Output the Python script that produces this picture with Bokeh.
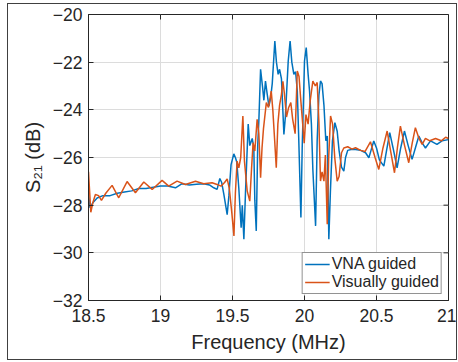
from bokeh.plotting import figure
from bokeh.models import Range1d, FixedTicker, Legend, LegendItem
from bokeh.embed import file_html
from bokeh.resources import INLINE

# ---- data ----
freq_vna = [18.500, 18.510, 18.530, 18.560, 18.600, 18.650, 18.700, 18.750, 18.800, 18.850,
            18.900, 18.950, 19.000, 19.050, 19.104, 19.150, 19.200, 19.250, 19.300, 19.340,
            19.370, 19.393, 19.412, 19.425, 19.440, 19.463, 19.475, 19.490, 19.509, 19.520,
            19.530, 19.544, 19.560, 19.568, 19.579, 19.590, 19.609, 19.620, 19.637, 19.648,
            19.655, 19.665, 19.675, 19.683, 19.695, 19.708, 19.718, 19.729, 19.740, 19.753,
            19.765, 19.776, 19.794, 19.805, 19.817, 19.827, 19.840, 19.857, 19.867, 19.887,
            19.900, 19.912, 19.926, 19.938, 19.950, 19.960, 19.975, 19.984, 20.000, 20.012,
            20.025, 20.035, 20.048, 20.058, 20.077, 20.088, 20.100, 20.111, 20.122, 20.135,
            20.148, 20.158, 20.169, 20.180, 20.194, 20.211, 20.227, 20.240, 20.257, 20.273,
            20.285, 20.300, 20.330, 20.354, 20.390, 20.424, 20.447, 20.462, 20.481, 20.500,
            20.520, 20.551, 20.570, 20.592, 20.615, 20.643, 20.668, 20.694, 20.720, 20.747,
            20.770, 20.794, 20.818, 20.840, 20.875, 20.920, 20.955, 21.000]
s21_vna = [-27.50, -28.10, -27.90, -27.70, -27.60, -27.60, -27.50, -27.45, -27.40, -27.30,
           -27.30, -27.25, -27.20, -27.20, -27.27, -27.10, -27.15, -27.12, -27.10, -27.15,
           -27.27, -27.34, -26.88, -27.05, -27.55, -28.40, -27.60, -26.30, -25.85, -26.00,
           -26.20, -27.30, -28.95, -28.00, -29.43, -27.50, -24.60, -25.50, -25.20, -25.60,
           -27.80, -29.08, -25.50, -24.47, -22.30, -23.00, -23.60, -22.79, -23.30, -23.84,
           -23.50, -22.90, -21.11, -22.00, -22.51, -22.30, -22.70, -25.03, -24.30, -21.95,
           -21.11, -22.00, -22.51, -22.40, -23.20, -25.20, -28.52, -25.60, -21.95, -21.39,
           -22.50, -23.21, -24.60, -26.50, -28.87, -25.30, -23.40, -22.79, -22.90, -23.80,
           -25.30, -25.10, -29.43, -27.40, -25.30, -24.54, -24.90, -25.70, -26.40, -26.57,
           -26.00, -25.70, -25.65, -25.66, -25.70, -25.80, -26.01, -25.70, -25.31, -25.60,
           -26.10, -26.36, -25.70, -24.96, -25.60, -26.43, -25.60, -24.89, -25.50, -26.08,
           -25.60, -25.10, -25.40, -25.60, -25.30, -25.45, -25.30, -25.25]

freq_vis = [18.500, 18.516, 18.530, 18.548, 18.570, 18.590, 18.620, 18.664, 18.710, 18.768,
            18.826, 18.884, 18.942, 19.011, 19.057, 19.115, 19.173, 19.243, 19.300, 19.358,
            19.393, 19.420, 19.445, 19.463, 19.478, 19.495, 19.510, 19.520, 19.532, 19.544,
            19.557, 19.572, 19.583, 19.602, 19.620, 19.632, 19.643, 19.655, 19.671, 19.683,
            19.695, 19.705, 19.715, 19.735, 19.750, 19.769, 19.780, 19.792, 19.804, 19.815,
            19.827, 19.840, 19.850, 19.860, 19.875, 19.890, 19.905, 19.918, 19.935, 19.950,
            19.962, 19.973, 19.984, 19.998, 20.010, 20.025, 20.040, 20.058, 20.075, 20.088,
            20.100, 20.111, 20.122, 20.135, 20.145, 20.158, 20.168, 20.181, 20.195, 20.210,
            20.227, 20.240, 20.257, 20.273, 20.300, 20.330, 20.354, 20.390, 20.420, 20.458,
            20.490, 20.516, 20.545, 20.574, 20.600, 20.625, 20.645, 20.666, 20.695, 20.724,
            20.748, 20.770, 20.795, 20.817, 20.840, 20.870, 20.910, 20.950, 20.980, 21.000]
s21_vis = [-26.60, -28.30, -27.90, -27.55, -27.60, -27.80, -27.50, -27.17, -27.69, -27.01,
           -27.48, -27.03, -27.34, -26.96, -27.20, -26.99, -27.13, -27.00, -27.10, -27.06,
           -27.13, -27.20, -27.05, -26.90, -27.30, -28.30, -29.29, -27.50, -26.15, -26.43,
           -26.00, -24.26, -26.15, -27.40, -27.83, -26.50, -25.38, -25.73, -24.40, -25.00,
           -26.85, -25.60, -24.80, -23.70, -23.90, -23.21, -24.00, -25.20, -26.43, -24.60,
           -23.80, -23.35, -22.80, -23.30, -24.30, -23.90, -23.70, -24.40, -25.00, -22.37,
           -22.60, -23.50, -24.33, -25.40, -24.20, -24.60, -23.60, -22.79, -23.00, -22.85,
           -24.50, -26.99, -26.60, -26.99, -25.90, -28.80, -26.00, -24.26, -24.60, -26.00,
           -26.99, -26.80, -25.80, -25.60, -25.55, -25.65, -25.59, -25.70, -25.75, -25.34,
           -26.00, -26.50, -25.60, -24.89, -25.80, -26.64, -25.60, -24.68, -25.50, -26.22,
           -25.40, -24.75, -25.20, -25.45, -25.20, -25.30, -25.20, -25.30, -25.15, -25.20]

x_ticks = [18.5, 19, 19.5, 20, 20.5, 21]
y_ticks = [-32, -30, -28, -26, -24, -22, -20]
series_names = ["VNA guided", "Visually guided"]

FONT = "Liberation Sans"
AX = "#262626"

p = figure(frame_width=360, frame_height=286,
           min_border_left=80, min_border_right=8, min_border_top=10, min_border_bottom=59,
           x_range=Range1d(x_ticks[0], x_ticks[-1]), y_range=Range1d(y_ticks[0], y_ticks[-1]),
           output_backend="svg", toolbar_location=None)
p.margin = (3, 0, 0, 7)
p.styles = {"border": "1px solid #404040"}

p.background_fill_color = "white"
p.border_fill_color = "white"
p.outline_line_color = AX
p.outline_line_width = 1

xax = p.xaxis[0]
yax = p.yaxis[0]
xax.ticker = FixedTicker(ticks=x_ticks)
yax.ticker = FixedTicker(ticks=y_ticks)

for ax in (xax, yax):
    ax.axis_line_color = AX
    ax.major_tick_line_color = AX
    ax.major_tick_in = 5
    ax.major_tick_out = 0
    ax.minor_tick_line_color = None
    ax.major_label_text_font = FONT
    ax.major_label_text_color = "#262626"
    ax.major_label_text_font_size = "17.5px"
    ax.axis_label_text_font = FONT
    ax.axis_label_text_font_style = "normal"
    ax.axis_label_text_color = "#262626"
    ax.axis_label_text_font_size = "20px"

xax.axis_label = "Frequency (MHz)"
xax.major_label_standoff = 8
xax.axis_label_standoff = 6
yax.axis_label = "S\u2082\u2081 (dB)"
yax.major_label_standoff = 6
yax.axis_label_standoff = 6

p.grid.grid_line_color = "#dcdcdc"
p.grid.grid_line_width = 1
p.xgrid.ticker = FixedTicker(ticks=x_ticks)
p.ygrid.ticker = FixedTicker(ticks=y_ticks)

r1 = p.line(freq_vna, s21_vna, line_color="#0072BD", line_width=1.5)
r2 = p.line(freq_vis, s21_vis, line_color="#D95319", line_width=1.5)

# MATLAB-style inward ticks on the top and right edges (clipped to the frame)
p.scatter(x_ticks, [y_ticks[-1]] * len(x_ticks), marker="dash", angle=1.5708,
          size=10, line_color=AX, line_width=1)
p.scatter([x_ticks[-1]] * len(y_ticks), y_ticks, marker="dash",
          size=10, line_color=AX, line_width=1)

legend = Legend(items=[LegendItem(label=series_names[0], renderers=[r1]),
                       LegendItem(label=series_names[1], renderers=[r2])],
                location="bottom_right")
legend.margin = 6
legend.padding = 2
legend.spacing = 0
legend.glyph_width = 25
legend.glyph_height = 18
legend.label_height = 18
legend.label_standoff = 2
legend.label_text_font = FONT
legend.label_text_font_size = "16px"
legend.label_text_color = "#262626"
legend.border_line_color = AX
legend.border_line_width = 1
legend.background_fill_color = "white"
legend.background_fill_alpha = 1
p.add_layout(legend, "center")

open("out.html", "w").write(file_html(p, INLINE))
